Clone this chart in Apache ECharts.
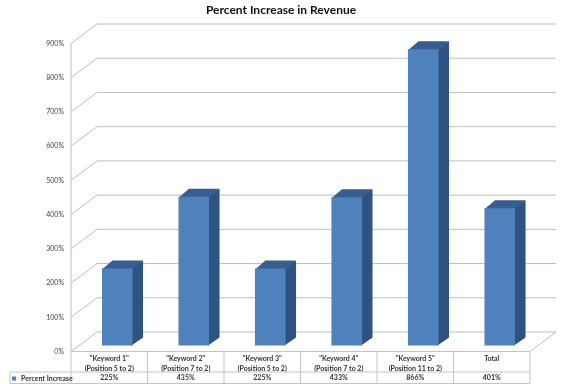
<!DOCTYPE html>
<html><head><meta charset="utf-8">
<style>html,body{margin:0;padding:0;background:#fff}#c{width:562px;height:384px}</style>
<script src="https://cdn.jsdelivr.net/npm/echarts@6/dist/echarts.min.js"></script>
</head><body><div id="c"></div>
<script>
const title = 'Percent Increase in Revenue';
const seriesName = 'Percent Increase';
const categories = ['"Keyword 1"', '"Keyword 2"', '"Keyword 3"', '"Keyword 4"', '"Keyword 5"', 'Total'];
const subLabels = ['(Position 5 to 2)', '(Position 7 to 2)', '(Position 5 to 2)', '(Position 7 to 2)', '(Position 11 to 2)', ' '];
const values = [225, 435, 225, 433, 866, 401];
const ticks = [0, 100, 200, 300, 400, 500, 600, 700, 800, 900];

const wallDX = 26, wallDY = -19.5;
const barOffX = 8, barOffY = -6, barDX = 10.5, barDY = -8;
const gridColor = '#bdbdbd', tableColor = '#c4c4c4', textColor = '#333';
const lineStyle = {stroke: gridColor, lineWidth: 1, fill: null};

function wallItem(params, api) {
  const cs = params.coordSys;
  const y = api.coord([0, api.value(0)])[1];
  const children = [{type: 'polyline', shape: {points: [
    [cs.x, y], [cs.x + wallDX, y + wallDY], [cs.x + cs.width + wallDX, y + wallDY]
  ]}, style: lineStyle}];
  if (api.value(0) === 0) {
    children.push({type: 'polyline', shape: {points: [
      [cs.x, cs.y], [cs.x, y]
    ]}, style: lineStyle});
    children.push({type: 'polyline', shape: {points: [
      [cs.x + cs.width, y], [cs.x + cs.width + wallDX, y + wallDY]
    ]}, style: lineStyle});
  }
  return {type: 'group', children};
}

function barItem(params, api) {
  const idx = api.value(0);
  const top = api.coord([idx, api.value(1)]);
  const base = api.coord([idx, 0]);
  const w = api.size([1, 0])[0] * 0.4;
  const x0 = top[0] - w / 2 + barOffX, x1 = x0 + w;
  const yT = top[1] + barOffY, yB = base[1] + barOffY;
  return {type: 'group', children: [
    {type: 'polygon', shape: {points: [[x1 - 1, yT], [x1 + barDX, yT + barDY], [x1 + barDX, yB + barDY], [x1 - 1, yB]]},
      style: {fill: '#2f5381'}},
    {type: 'polygon', shape: {points: [[x0, yT + 1], [x0 + barDX, yT + barDY], [x1 + barDX, yT + barDY], [x1, yT + 1]]},
      style: {fill: '#375e8e'}},
    {type: 'rect', shape: {x: x0, y: yT, width: w, height: yB - yT},
      style: {fill: '#4f81bd'}}
  ]};
}

function tableItem(params, api) {
  const cs = params.coordSys;
  const t = cs.y + cs.height, L = cs.x, R = cs.x + cs.width;
  const row = t + 20.5, bot = t + 32, labelL = 10;
  const s = {stroke: tableColor, lineWidth: 1};
  const ln = (x1, y1, x2, y2) => ({type: 'line', shape: {x1, y1, x2, y2}, style: s});
  const children = [ln(L, t, R, t), ln(labelL, row, R, row), ln(labelL, bot, R, bot), ln(labelL, row, labelL, bot)];
  const bw = cs.width / categories.length;
  for (let i = 0; i <= categories.length; i++) {
    children.push(ln(L + bw * i, t, L + bw * i, bot));
  }
  return {type: 'group', children};
}

const chart = echarts.init(document.getElementById('c'), null, {renderer: 'canvas'});
chart.setOption({
  animation: false,
  backgroundColor: '#fff',
  title: {text: title, left: 'center', top: -1,
    textStyle: {fontFamily: 'Lato', fontSize: 12, fontWeight: 'bold', color: '#111'}},
  legend: {data: [seriesName], icon: 'rect', left: 12, top: 375, itemWidth: 4, itemHeight: 4, itemGap: 1, padding: 0,
    textStyle: {fontFamily: 'Lato', fontSize: 7, fontWeight: 'bold', color: textColor}},
  grid: {left: 71, right: 32, top: 43.5, bottom: 32.5},
  xAxis: {type: 'category', data: categories, axisLine: {show: false}, axisTick: {show: false},
    axisLabel: {interval: 0, margin: 3, fontFamily: 'Lato', fontSize: 7, fontWeight: 'bold', color: textColor, lineHeight: 9.3,
      formatter: (v, i) => v + '\n' + subLabels[i] + '\n' + values[i] + '%'}},
  yAxis: {type: 'value', min: 0, max: 900, interval: 100, splitLine: {show: false},
    axisLine: {show: false}, axisTick: {show: false},
    axisLabel: {margin: 7, fontFamily: 'Lato', fontSize: 7, color: '#444', padding: [5, 0, 0, 0], formatter: '{value}%'}},
  series: [
    {type: 'custom', name: 'walls', silent: true, data: ticks.map(t => [t]), renderItem: wallItem, z: 1,
      encode: {y: 0}},
    {type: 'custom', name: 'table', silent: true, data: [[0]], renderItem: tableItem, z: 1},
    {type: 'custom', name: seriesName, itemStyle: {color: '#4f81bd'}, z: 2,
      data: values.map((v, i) => [i, v]), renderItem: barItem, encode: {x: 0, y: 1}}
  ]
});
</script></body></html>
